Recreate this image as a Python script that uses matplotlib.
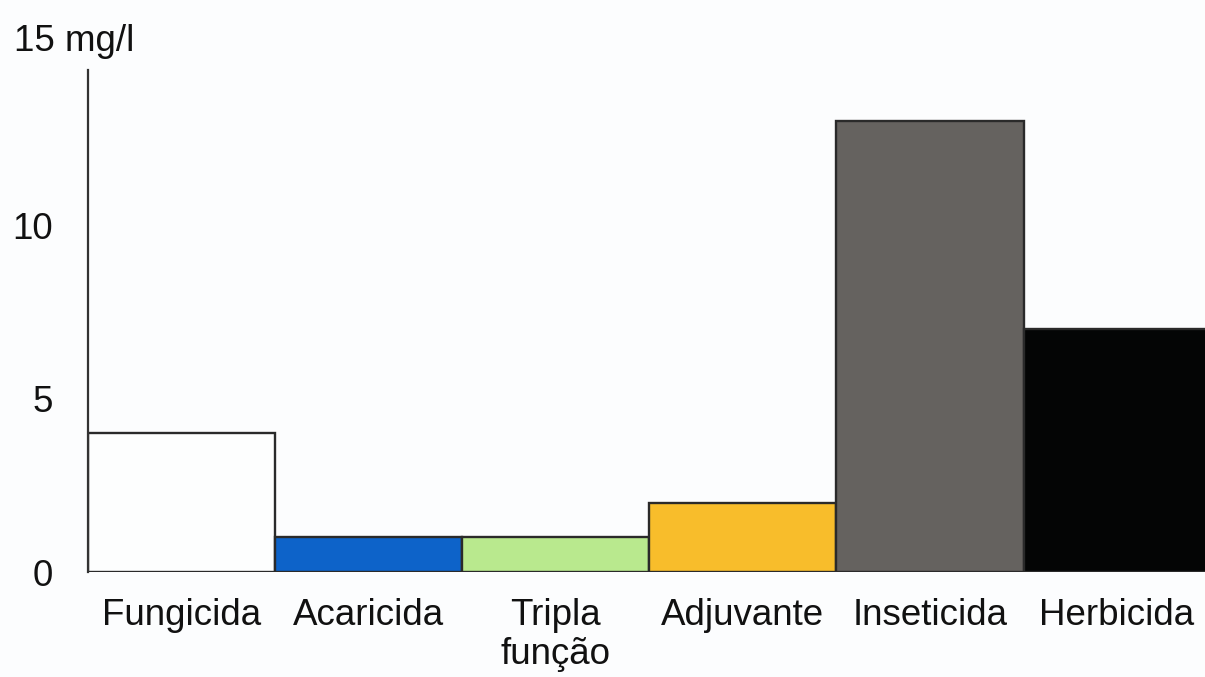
import matplotlib.pyplot as plt
import numpy as np

plt.rcParams['font.family'] = ['Liberation Sans', 'DejaVu Sans']

categories = ["Fungicida", "Acaricida", "Tripla\nfunção", "Adjuvante", "Inseticida", "Herbicida"]
values = [4, 1, 1, 2, 13, 7]
colors = ["#fdfefe", "#0d63c9", "#b9e98e", "#f8bd2b", "#65625f", "#040505"]
yticks = [0, 5, 10]

fig = plt.figure(figsize=(12.05, 6.77), dpi=100)
fig.patch.set_facecolor("#fcfdfe")
ax = fig.add_axes([88 / 1205, 1 - 572 / 677, 1 - 88 / 1205, (572 - 70) / 677])
ax.set_facecolor("none")

x = np.arange(len(categories))
ax.bar(x, values, width=1.0, color=colors, edgecolor="#2a2a2a", linewidth=1.7)

ax.set_xlim(-0.5, 5.47)
ax.set_ylim(0, 14.47)
ax.set_xticks(x)
ax.set_xticklabels(categories, fontsize=26.5, color="#111111", linespacing=1.12)
ax.set_yticks(yticks)
ax.set_yticklabels([str(v) for v in yticks], fontsize=26.5, color="#111111")
ax.tick_params(axis="x", length=0, pad=19)
ax.tick_params(axis="y", length=0, pad=25)

for side in ["top", "right", "bottom"]:
    ax.spines[side].set_visible(False)
ax.spines["left"].set_color("#333333")
ax.spines["left"].set_linewidth(1.6)

# unit label sits above the axis line
fig.text(14 / 1205, 1 - 51 / 677, "15 mg/l", fontsize=26.5, color="#111111",
         ha="left", va="baseline")

fig.savefig("out.png", dpi=100, facecolor=fig.get_facecolor())
